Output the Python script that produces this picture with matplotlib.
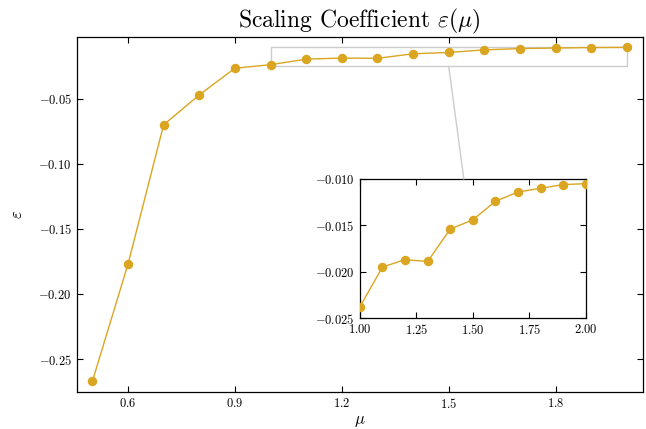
import matplotlib
matplotlib.use("Agg")
import matplotlib.pyplot as plt
from matplotlib.ticker import MultipleLocator
from matplotlib.patches import Rectangle, ConnectionPatch

# Computer Modern look
plt.rcParams["font.family"] = "serif"
plt.rcParams["font.serif"] = ["cmr10"]
plt.rcParams["mathtext.fontset"] = "cm"
plt.rcParams["axes.formatter.use_mathtext"] = True
plt.rcParams["axes.unicode_minus"] = True

# data
mu = [0.5, 0.6, 0.7, 0.8, 0.9, 1.0, 1.1, 1.2, 1.3, 1.4, 1.5, 1.6, 1.7, 1.8, 1.9, 2.0]
eps = [-0.267, -0.177, -0.070, -0.047, -0.0265, -0.0238, -0.0195, -0.0187, -0.0189,
       -0.0154, -0.0144, -0.0124, -0.0114, -0.0110, -0.0106, -0.0105]

# zoom window for the inset
zoom_x = (1.0, 2.0)
zoom_y = (-0.025, -0.010)

color = "#DAA520"
box_color = "#cccccc"

fig = plt.figure(figsize=(6.46, 4.29), dpi=100)
ax = fig.add_axes([0.1187, 0.0869, 0.876, 0.826])

ax.plot(mu, eps, color=color, lw=1.0, marker="o", ms=5.8, zorder=3)
ax.set_xlim(0.456, 2.044)
ax.set_ylim(-0.2750, -0.0028)
ax.xaxis.set_major_locator(MultipleLocator(0.3))
ax.yaxis.set_major_locator(MultipleLocator(0.05))
ax.tick_params(direction="in", top=True, right=True, labelsize=9, length=4, width=0.8)
ax.set_title(r"Scaling Coefficient $\varepsilon(\mu)$", fontsize=17, pad=7)
ax.set_xlabel(r"$\mu$", fontsize=12, labelpad=2)
ax.set_ylabel(r"$\varepsilon$", fontsize=12, labelpad=10)
for s in ax.spines.values():
    s.set_linewidth(0.9)

# gray box showing the zoomed region
ax.add_patch(Rectangle((zoom_x[0], zoom_y[0]), zoom_x[1] - zoom_x[0], zoom_y[1] - zoom_y[0],
                       fill=False, edgecolor=box_color, lw=1.0, zorder=2))

# inset
axin = fig.add_axes([0.557, 0.2587, 0.350, 0.324])
axin.plot(mu, eps, color=color, lw=1.0, marker="o", ms=5.8, zorder=3)
axin.set_xlim(*zoom_x)
axin.set_ylim(*zoom_y)
axin.xaxis.set_major_locator(MultipleLocator(0.25))
axin.yaxis.set_major_locator(MultipleLocator(0.005))
axin.tick_params(direction="in", top=True, right=True, labelsize=9, length=4, width=0.8)
for s in axin.spines.values():
    s.set_linewidth(0.9)

# line from the box to the inset
con = ConnectionPatch(xyA=(1.5, zoom_y[0]), coordsA=ax.transData,
                      xyB=(1.46, zoom_y[1]), coordsB=axin.transData,
                      color=box_color, lw=1.0)
fig.add_artist(con)

fig.savefig("out.png", dpi=100)
